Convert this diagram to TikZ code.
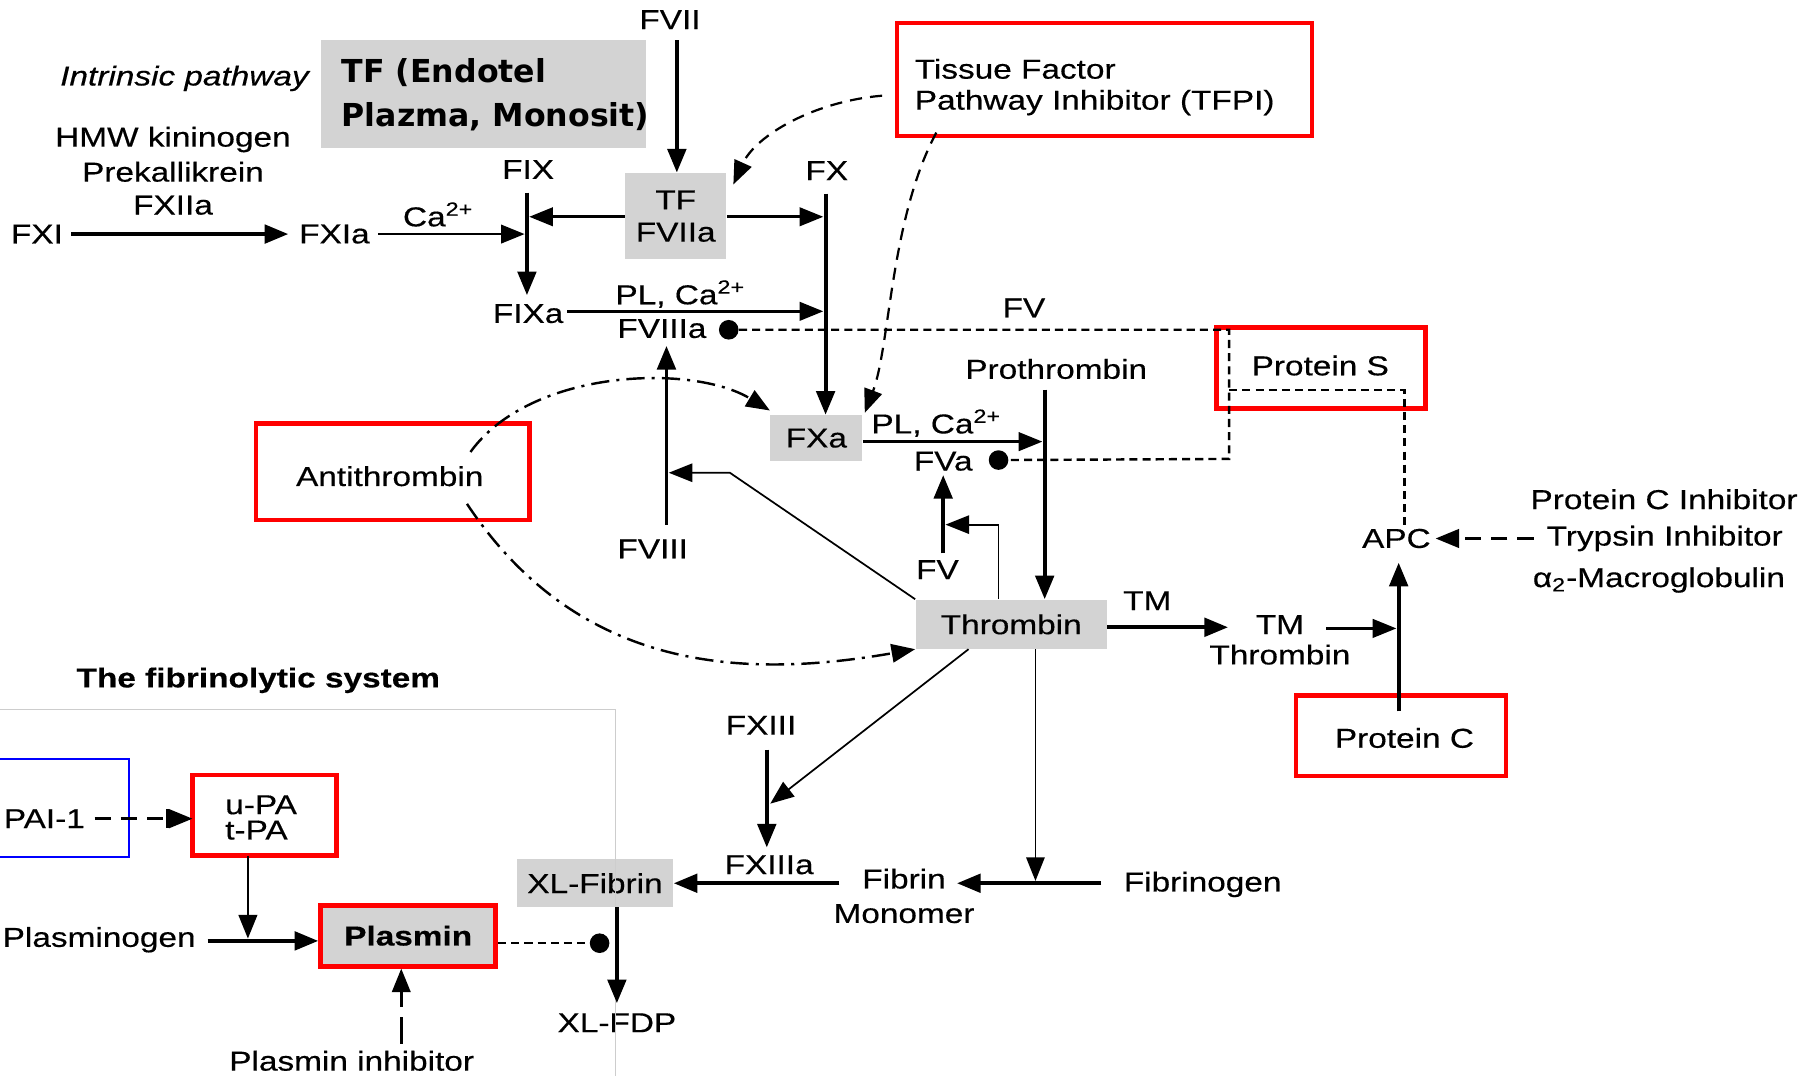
\documentclass[tikz,border=0pt]{standalone}
\usepackage{fontspec}
\setmainfont{Liberation Sans}[FakeStretch=1.22,FakeBold=0.4]
\newfontfamily\comicf{DejaVu Sans}
\usetikzlibrary{arrows.meta}
\definecolor{boxgray}{RGB}{211,211,211}
\definecolor{framegray}{RGB}{205,205,205}
\definecolor{redb}{RGB}{255,0,0}
\definecolor{blueb}{RGB}{0,0,255}
\newcommand\lab{\fontsize{13.5pt}{16pt}\selectfont}
\tikzset{
  lbl/.style={inner sep=0pt, font=\lab},
  tipT/.tip={Triangle[length=0.41cm,width=0.32cm]},
  thk/.style={line width=1.9pt, -tipT},
  med/.style={line width=1.3pt, -tipT},
  thn/.style={line width=0.85pt, -tipT},
  graybox/.style={fill=boxgray, inner sep=0pt},
  redbox/.style={draw=redb, line width=2.3pt, inner sep=0pt},
  dotn/.style={circle, fill=black, minimum size=0.34cm, inner sep=0pt},
  dsh/.style={line width=1.2pt, dash pattern=on 4pt off 2.5pt},
  ldsh/.style={line width=1.1pt, dash pattern=on 6pt off 4pt, -tipT},
  ddot/.style={line width=1.2pt, dash pattern=on 9pt off 3.5pt on 1.5pt off 3.5pt, -tipT},
}
\begin{document}
\begin{tikzpicture}[x=0.02cm,y=-0.02cm]
\useasboundingbox (0,0) rectangle (1568,933);
\begin{scope}
\clip (0,0) rectangle (1568,933);

% ---------- boxes ----------
\node[graybox, minimum width=5.64cm, minimum height=1.86cm] (tfbig) at (419,81.5) {};
\node[anchor=west, inner sep=0pt, align=left, font=\comicf\bfseries\fontsize{15.6pt}{21.6pt}\selectfont] (tfbigtxt) at (296,82) {TF (Endotel\\Plazma, Monosit)};
\node[graybox, minimum width=1.76cm, minimum height=1.5cm, align=center, font=\fontsize{13.5pt}{15.9pt}\selectfont] (tfa) at (586,187.5) {TF\\FVIIa};
\node[graybox, minimum width=1.6cm, minimum height=0.8cm, font=\lab] (fxa) at (708,380) {FXa};
\node[graybox, minimum width=3.32cm, minimum height=0.86cm, font=\lab] (thr) at (877,541.5) {Thrombin};
\node[graybox, minimum width=2.72cm, minimum height=0.84cm, font=\lab] (xlf) at (516,766) {XL-Fibrin};
\node[graybox, draw=redb, line width=2.3pt, minimum width=3.04cm, minimum height=1.06cm, font=\lab\bfseries] (plasmin) at (354,811.5) {Plasmin};

\node[redbox, minimum width=7.2cm, minimum height=1.96cm] (tfpi) at (958,69) {};
\node[anchor=west, inner sep=0pt, align=left, font=\fontsize{13.5pt}{15.3pt}\selectfont] (tfpitxt) at (793,75.5) {Tissue Factor\\Pathway Inhibitor (TFPI)};
\node[redbox, minimum width=3.62cm, minimum height=1.4cm] (ps) at (1145.5,319) {};
\node[lbl] (pstxt) at (1145,317) {Protein S};
\node[redbox, minimum width=4.74cm, minimum height=1.68cm] (at) at (340.5,409) {};
\node[lbl] (attxt) at (338,413) {Antithrombin};
\node[redbox, minimum width=3.64cm, minimum height=1.4cm] (pc) at (1215,638) {};
\node[lbl] (pctxt) at (1218,640) {Protein C};
\node[redbox, minimum width=2.5cm, minimum height=1.4cm] (pa) at (229.5,707) {};
\node[anchor=west, inner sep=0pt, align=left, font=\fontsize{13.5pt}{12.5pt}\selectfont] (patxt) at (195,709) {u-PA\\t-PA};
\node[draw=blueb, line width=1.1pt, inner sep=0pt, minimum width=2.64cm, minimum height=1.7cm] (pai) at (46,700.5) {};
\node[lbl, anchor=west] (paitxt) at (3,710) {PAI-1};

% ---------- labels ----------
\node[lbl] (fvii) at (581,17) {FVII};
\node[lbl, font=\lab\itshape] (intr) at (160,68) {Intrinsic pathway};
\node[lbl] (hmw) at (150,121) {HMW kininogen};
\node[lbl] (prek) at (150,149) {Prekallikrein};
\node[lbl] (fxiia) at (150,178) {FXIIa};
\node[lbl] (fxi) at (32,203) {FXI};
\node[lbl] (fxia) at (290,203) {FXIa};
\node[lbl] (ca1) at (380,186) {Ca\textsuperscript{2+}};
\node[lbl] (fix) at (458,147) {FIX};
\node[lbl] (fx) at (717,148) {FX};
\node[lbl] (fixa) at (458,272) {FIXa};
\node[lbl] (plca1) at (590,255) {PL, Ca\textsuperscript{2+}};
\node[lbl] (fviiia) at (574,285) {FVIIIa};
\node[lbl] (fv1) at (888,267) {FV};
\node[lbl] (proth) at (916,320) {Prothrombin};
\node[lbl] (plca2) at (812,367) {PL, Ca\textsuperscript{2+}};
\node[lbl] (fva) at (818,400) {FVa};
\node[lbl] (fviii) at (566,476) {FVIII};
\node[lbl] (fv2) at (813,494) {FV};
\node[lbl] (tm1) at (995,521) {TM};
\node[lbl, align=center, font=\fontsize{13.5pt}{15pt}\selectfont] (tmthr) at (1110,555) {TM\\Thrombin};
\node[lbl] (apc) at (1211,467) {APC};
\node[lbl, anchor=west] (pci) at (1327,433) {Protein C Inhibitor};
\node[lbl, anchor=west] (tri) at (1341,467) {Trypsin Inhibitor};
\node[lbl, anchor=west] (a2m) at (1329,503) {α\textsubscript{2}-Macroglobulin};
\node[lbl, font=\lab\bfseries] (fibsys) at (224,590) {The fibrinolytic system};
\node[lbl] (fxiii) at (660,629) {FXIII};
\node[lbl] (fxiiia) at (667,750) {FXIIIa};
\node[lbl, align=center, font=\fontsize{13.5pt}{17pt}\selectfont] (fibmon) at (784,777) {Fibrin\\Monomer};
\node[lbl] (fibgen) at (1043,767) {Fibrinogen};
\node[lbl] (xlfdp) at (535,887) {XL-FDP};
\node[lbl] (plinh) at (305,920) {Plasmin inhibitor};
\node[lbl, anchor=west] (plgen) at (2,815) {Plasminogen};

% ---------- dots ----------
\node[dotn] (d1) at (632,286) {};
\node[dotn] (d2) at (866,399) {};
\node[dotn] (d3) at (520,818) {};

% ---------- frame ----------
\coordinate (frL) at (0,615);
\coordinate (frC) at (534,615);
\coordinate (frB) at (534,933);
\draw[framegray, line width=0.6pt] (frL) -- (frC) -- (frB);

% ---------- junction coordinates ----------
\coordinate (fviiS) at (587,35);
\coordinate (fxiE) at (62,203);
\coordinate (fxiaW) at (250,203);
\coordinate (fxiaE) at (328,203);
\coordinate (fixBar) at (455,203);
\coordinate (fixTop) at (457,167);
\coordinate (fixBot) at (457,256);
\coordinate (fixBarT) at (459,188);
\coordinate (fxBarT) at (714,188);
\coordinate (fxTop) at (716,168);
\coordinate (fixaE) at (492,270);
\coordinate (fxBarA) at (714,270);
\coordinate (fviiiTop) at (578,300);
\coordinate (fviiiBot) at (578,455);
\coordinate (prothS) at (906,338);
\coordinate (prothBar) at (904,383);
\coordinate (fvTop) at (818,412);
\coordinate (fvBot) at (818,480);
\coordinate (thrFvC) at (866,455);
\coordinate (thrFvT) at (820,455);
\coordinate (thrFviiiC) at (633,410);
\coordinate (thrFviiiT) at (580,410);
\coordinate (tmE) at (1065,544);
\coordinate (tmthrE) at (1150,545);
\coordinate (pcBar) at (1211,545);
\coordinate (pcS) at (1213,617);
\coordinate (apcS) at (1213,488);
\coordinate (fvR) at (1066,286);
\coordinate (fvaR) at (1066,398);
\coordinate (psL) at (1066,338);
\coordinate (psR) at (1218,338);
\coordinate (apcN) at (1218,455);
\coordinate (apcE) at (1245,467);
\coordinate (triW) at (1330,467);
\coordinate (fxiiiS) at (665,650);
\coordinate (fxiiiE) at (665,735);
\coordinate (fxiiiBar) at (668,697);
\coordinate (thrSW) at (840,563);
\coordinate (thrS) at (898,563);
\coordinate (fibBar) at (898,764);
\coordinate (fibgenW) at (955,766);
\coordinate (fibmonE) at (830,766);
\coordinate (fibmonW) at (728,766);
\coordinate (xlfS) at (535,787);
\coordinate (xlfdpN) at (535,870);
\coordinate (plgenE) at (180,816);
\coordinate (paS) at (215,742);
\coordinate (plgBar) at (215,814);
\coordinate (paiE) at (82,710);
\coordinate (paW) at (167,710);
\coordinate (plinhN) at (348,905);
\coordinate (tfpiW) at (765,83);
\coordinate (tfpiS) at (812,115);
\coordinate (atNE) at (408,392);
\coordinate (atSE) at (405,437);

% ---------- solid connectors ----------
\draw[thk] (fviiS) -- (tfa.north -| fviiS);
\draw[thk] (fxiE) -- (fxiaW);
\draw[med] (fxiaE) -- (fixBar);
\draw[thk] (fixTop) -- (fixBot);
\draw[med] (tfa.west |- fixBarT) -- (fixBarT);
\draw[med] (tfa.east |- fxBarT) -- (fxBarT);
\draw[thk] (fxTop) -- (fxa.north -| fxTop);
\draw[med] (fixaE) -- (fxBarA);
\draw[thk] (fviiiBot) -- (fviiiTop);
\draw[thk] (prothS) -- (thr.north -| prothS);
\draw[med] (fxa.east |- prothBar) -- (prothBar);
\draw[thk] (fvBot) -- (fvTop);
\draw[thn] (thr.north -| thrFvC) -- (thrFvC) -- (thrFvT);
\draw[thn] (thr.north west) -- (thrFviiiC) -- (thrFviiiT);
\draw[thk] (thr.east |- tmE) -- (tmE);
\draw[med] (tmthrE) -- (pcBar);
\draw[thk] (pcS) -- (apcS);
\draw[thn] (thrSW) -- (fxiiiBar);
\draw[thk] (fxiiiS) -- (fxiiiE);
\draw[thn] (thrS) -- (fibBar);
\draw[thk] (fibgenW) -- (fibmonE);
\draw[thk] (fibmonW) -- (xlf.east |- fibmonW);
\draw[thk] (xlfS) -- (xlfdpN);
\draw[thk] (plgenE) -- (plasmin.west |- plgenE);
\draw[med] (paS) -- (plgBar);

% ---------- dashed connectors ----------
\draw[dsh] (d1) -- (fvR) -- (fvaR) -- (d2);
\draw[dsh] (psL) -- (psR) -- (apcN);
\draw[dsh] (plasmin.east |- d3) -- (d3);
\draw[ldsh] (tfpiW) .. controls (705,88) and (655,118) .. (636,160);
\draw[ldsh] (tfpiS) .. controls (772,190) and (772,300) .. (750,358);
\draw[ddot] (atNE) .. controls (460,320) and (600,315) .. (fxa.west |- 0,356);
\draw[ddot] (atSE) .. controls (500,580) and (640,590) .. (thr.west |- 0,563);
\draw[line width=1.6pt, dash pattern=on 8pt off 5pt, -tipT] (triW) -- (apcE);
\draw[line width=1.6pt, dash pattern=on 8pt off 5pt, -{Bar[width=0.32cm,line width=1.3pt]tipT}] (paiE) -- (paW);
\draw[line width=1.3pt, dash pattern=on 13pt off 5pt, -tipT] (plinhN) -- (plasmin.south -| plinhN);
\end{scope}
\end{tikzpicture}
\end{document}
